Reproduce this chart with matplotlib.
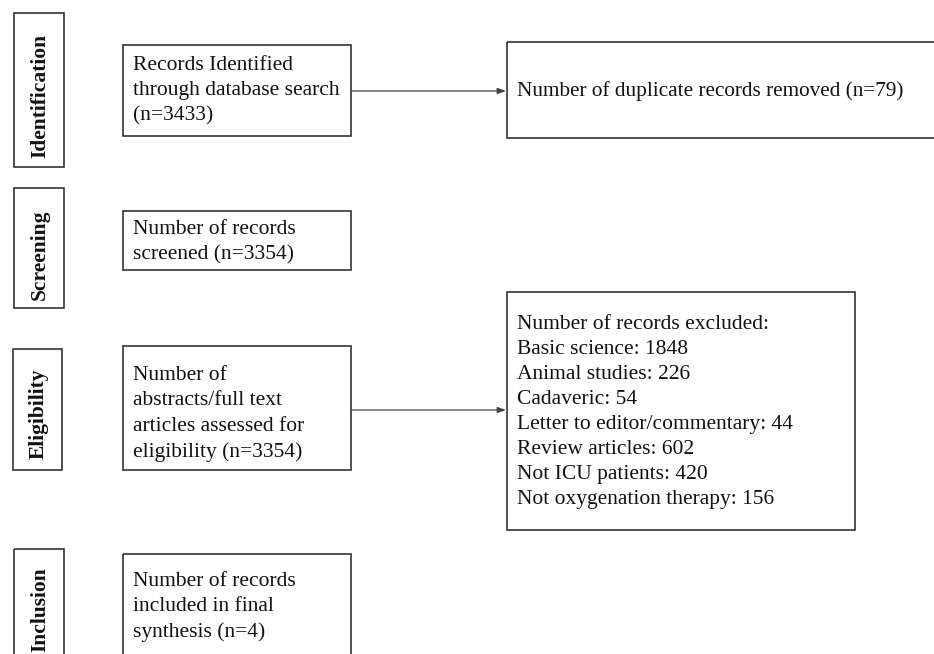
import matplotlib.pyplot as plt
from matplotlib.patches import Rectangle

# Stage labels (left column) and flow box texts
stages = ['Identification', 'Screening', 'Eligibility', 'Inclusion']
main_texts = ['Records Identified\nthrough database search\n(n=3433)',
              'Number of records\nscreened (n=3354)',
              'Number of\nabstracts/full text\narticles assessed for\neligibility (n=3354)',
              'Number of records\nincluded in final\nsynthesis (n=4)']
dup_text = 'Number of duplicate records removed (n=79)'
excl_header = 'Number of records excluded:'
excl_reasons = ['Basic science', 'Animal studies', 'Cadaveric',
                'Letter to editor/commentary', 'Review articles',
                'Not ICU patients', 'Not oxygenation therapy']
excl_counts = [1848, 226, 54, 44, 602, 420, 156]

# layout in pixel coords (x0, y0, x1, y1), y going down
stage_boxes = [(14, 13, 64, 167), (14, 188, 64, 308), (13, 349, 62, 470), (14, 549, 64, 700)]
stage_centers = [96, 255, 414, 610]
main_boxes = [(123, 45, 351, 136), (123, 211, 351, 270), (123, 346, 351, 470), (123, 554, 351, 700)]
main_centers = [91, 242, 414, 607]
dup_box = (507, 42, 960, 138)
excl_box = (507, 292, 855, 530)

W, H = 934, 654
fig = plt.figure(figsize=(W / 100, H / 100), dpi=100)
ax = fig.add_axes([0, 0, 1, 1])
ax.set_xlim(0, W)
ax.set_ylim(H, 0)
ax.axis('off')

edge = '#333333'
ink = '#111111'
serif = ['Liberation Serif', 'DejaVu Serif']
fs = 15.5


def box(b):
    x0, y0, x1, y1 = b
    ax.add_patch(Rectangle((x0, y0), x1 - x0, y1 - y0, fill=False,
                           edgecolor=edge, linewidth=1.2))


for b, s, cy in zip(stage_boxes, stages, stage_centers):
    box(b)
    ax.text((b[0] + b[2]) / 2 + 1, cy, s, rotation=90, ha='center', va='center',
            fontsize=fs, fontweight='bold', family=serif, color=ink)

for b, t, cy in zip(main_boxes, main_texts, main_centers):
    box(b)
    ax.text(b[0] + 10, cy, t, ha='left', va='center', fontsize=fs,
            family=serif, color=ink, linespacing=1.45)

box(dup_box)
ax.text(dup_box[0] + 10, 91, dup_text, ha='left', va='center', fontsize=15.3,
        family=serif, color=ink)

box(excl_box)
excl_lines = [excl_header] + ['%s: %d' % (r, c) for r, c in zip(excl_reasons, excl_counts)]
ax.text(excl_box[0] + 10, 412, '\n'.join(excl_lines), ha='left', va='center',
        fontsize=fs, family=serif, color=ink, linespacing=1.42)

# arrows
for y in [91, 410]:
    ax.annotate('', xy=(506, y), xytext=(351, y),
                arrowprops=dict(arrowstyle='-|>,head_length=0.5,head_width=0.18',
                                color='#444444', lw=0.9, shrinkA=0, shrinkB=0))

fig.savefig('out.png', dpi=100)
